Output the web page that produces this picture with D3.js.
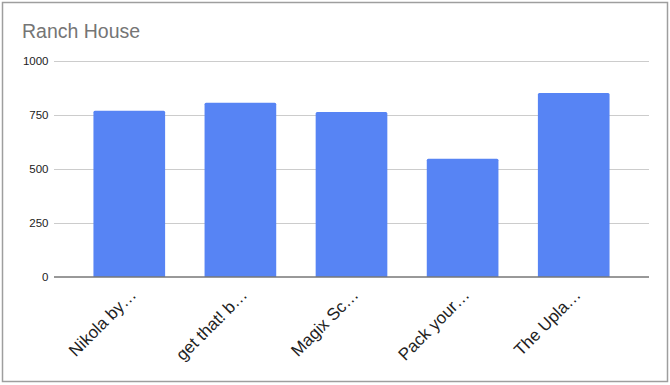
<!DOCTYPE html>
<html>
<head>
<meta charset="utf-8">
<script src="https://cdn.jsdelivr.net/npm/d3@7/dist/d3.min.js"></script>
<style>
  html, body { margin: 0; padding: 0; background: #fff; }
  svg { display: block; }
</style>
</head>
<body>
<svg id="chart" width="670" height="385"></svg>
<script>
const title = "Ranch House";
const categories = ["Nikola by…", "get that! b…", "Magix Sc…", "Pack your…", "The Upla…"];
const values = [767, 804, 762, 545, 850];
const yTicks = [0, 250, 500, 750, 1000];

(function () {
const svg = d3.select("#chart");
const font = "Arial, 'Liberation Sans', sans-serif";

// frame
svg.append("rect")
  .attr("x", 2.5).attr("y", 2.5)
  .attr("width", 665).attr("height", 379)
  .attr("fill", "#fff")
  .attr("stroke", "#9e9e9e").attr("stroke-width", 1.5);

const pLeft = 54, pRight = 649, pTop = 60.5, pBottom = 276.5;

const x = d3.scaleBand().domain(categories).range([pLeft, pRight]).padding(0.355);
const y = d3.scaleLinear().domain([0, 1000]).range([pBottom, pTop]);

// title
svg.append("text")
  .attr("x", 22).attr("y", 37.5)
  .attr("font-family", font).attr("font-size", 19.5)
  .attr("fill", "#757575")
  .text(title);

// gridlines
svg.append("g").selectAll("line").data(yTicks.filter(d => d !== 0)).join("line")
  .attr("x1", pLeft).attr("x2", pRight)
  .attr("y1", d => Math.round(y(d)) + 0.5).attr("y2", d => Math.round(y(d)) + 0.5)
  .attr("stroke", "#cccccc").attr("stroke-width", 1);

// y labels
svg.append("g").selectAll("text").data(yTicks).join("text")
  .attr("x", 48.5).attr("y", d => y(d) + 4)
  .attr("text-anchor", "end")
  .attr("font-family", font).attr("font-size", 11.5)
  .attr("fill", "#222")
  .text(d => d);

// bars
svg.append("g").selectAll("path").data(values).join("path")
  .attr("fill", "#5784f4")
  .attr("d", (d, i) => {
    const x0 = x(categories[i]), w = x.bandwidth();
    const y0 = y(d), y1 = y(0), r = 1.5;
    return `M${x0},${y1}V${y0 + r}Q${x0},${y0} ${x0 + r},${y0}H${x0 + w - r}Q${x0 + w},${y0} ${x0 + w},${y0 + r}V${y1}Z`;
  });

// baseline
svg.append("line")
  .attr("x1", pLeft).attr("x2", pRight)
  .attr("y1", pBottom + 0.5).attr("y2", pBottom + 0.5)
  .attr("stroke", "#333").attr("stroke-width", 1);

// x labels
svg.append("g").selectAll("text").data(categories).join("text")
  .attr("transform", d => `translate(${x(d) + x.bandwidth() / 2 + 8},296) rotate(-45)`)
  .attr("text-anchor", "end")
  .attr("font-family", font).attr("font-size", 17)
  .attr("fill", "#222")
  .text(d => d);
})();
</script>
</body>
</html>
